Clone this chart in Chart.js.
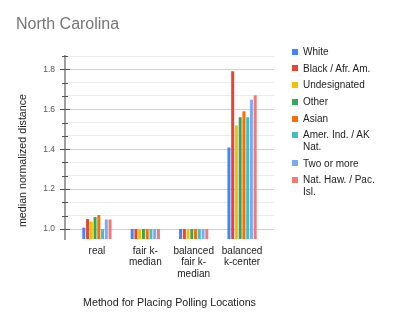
<!DOCTYPE html>
<html>
<head>
<meta charset="utf-8">
<script src="https://cdn.jsdelivr.net/npm/chart.js@4.4.0/dist/chart.umd.min.js"></script>
<style>
  html, body { margin: 0; padding: 0; background: #fff; }
  #wrap { position: relative; width: 402px; height: 325px; }
  #legend { position: absolute; left: 292px; top: 46px; font: 10px "Liberation Sans", Arial, sans-serif; color: #222; }
  .item { display: flex; align-items: flex-start; margin-bottom: 5.2px; line-height: 11.5px; }
  .swatch { width: 6px; height: 6px; margin-top: 2.75px; margin-right: 5px; flex: none; }
  .label { width: 80px; }
</style>
</head>
<body>
<div id="wrap">
  <canvas id="chart" width="402" height="325"></canvas>
  <div id="legend"></div>
</div>
<script>
const chartTitle = 'North Carolina';
const xTitle = 'Method for Placing Polling Locations';
const yTitle = 'median normalized distance';

// categories (multi-line labels as shown)
const categories = [['real'], ['fair k-', 'median'], ['balanced', 'fair k-', 'median'], ['balanced', 'k-center']];

const seriesNames = ['White', 'Black / Afr. Am.', 'Undesignated', 'Other', 'Asian', 'Amer. Ind. / AK Nat.', 'Two or more', 'Nat. Haw. / Pac. Isl.'];
const seriesColors = ['#4285f4', '#ea4335', '#fbbc04', '#34a853', '#ff6d01', '#46bdc6', '#7baaf7', '#f07b72'];

// values per series, one per category
const white = [1.007, 1.0, 1.0, 1.408];
const black = [1.05, 1.0, 1.0, 1.79];
const undesignated = [1.037, 1.0, 1.0, 1.518];
const other = [1.06, 1.0, 1.0, 1.56];
const asian = [1.07, 1.0, 1.0, 1.59];
const amerInd = [1.0, 1.0, 1.0, 1.56];
const twoOrMore = [1.048, 1.0, 1.0, 1.648];
const natHaw = [1.048, 1.0, 1.0, 1.67];
const seriesValues = [white, black, undesignated, other, asian, amerInd, twoOrMore, natHaw];

// y axis
const yMajorTicks = [1.0, 1.2, 1.4, 1.6, 1.8];
const yStep = 0.2;
const yMin = 0.95;
const yMax = yMajorTicks[yMajorTicks.length - 1] + yStep / 3;

const isMajor = (v) => yMajorTicks.some((m) => Math.abs(m - v) < 1e-6);

const FONT = '"Liberation Sans", Arial, sans-serif';

// legend as html so long names can wrap
const legendEl = document.getElementById('legend');
seriesNames.forEach((name, i) => {
  const item = document.createElement('div');
  item.className = 'item';
  item.innerHTML = '<span class="swatch" style="background:' + seriesColors[i] + '"></span><span class="label">' + name + '</span>';
  legendEl.appendChild(item);
});

// tick marks crossing the y axis + offset y title
const axisMarks = {
  id: 'axisMarks',
  afterDraw(chart) {
    const { ctx, chartArea, scales: { y } } = chart;
    ctx.save();
    ctx.strokeStyle = '#555';
    ctx.lineWidth = 1;
    y.ticks.forEach((t) => {
      const py = Math.round(y.getPixelForValue(t.value)) + 0.5;
      const half = isMajor(t.value) ? 5 : 3;
      ctx.beginPath();
      ctx.moveTo(chartArea.left - half, py);
      ctx.lineTo(chartArea.left + half, py);
      ctx.stroke();
    });
    ctx.translate(23, (chartArea.top + chartArea.bottom) / 2 + 13);
    ctx.rotate(-Math.PI / 2);
    ctx.font = '10.7px ' + FONT;
    ctx.fillStyle = '#222';
    ctx.textAlign = 'center';
    ctx.textBaseline = 'middle';
    ctx.fillText(yTitle, 0, 0);
    ctx.restore();
  }
};

new Chart(document.getElementById('chart'), {
  type: 'bar',
  data: {
    datasets: seriesNames.map((name, i) => ({
      label: name,
      data: seriesValues[i].map((v, j) => ({ x: j, y: v })),
      backgroundColor: seriesColors[i],
      categoryPercentage: 0.62,
      barPercentage: 0.8,
    })),
  },
  options: {
    responsive: false,
    animation: false,
    devicePixelRatio: 1,
    layout: { padding: { left: 16, right: 128, top: 0, bottom: 12 } },
    plugins: {
      legend: { display: false },
      tooltip: { enabled: false },
      title: {
        display: true,
        text: chartTitle,
        align: 'start',
        color: '#757575',
        font: { family: FONT, size: 16, weight: 'normal' },
        padding: { top: 15.4, bottom: 21.4 },
      },
    },
    scales: {
      x: {
        type: 'linear',
        offset: false,
        min: -0.66,
        max: 3.66,
        afterBuildTicks: (scale) => { scale.ticks = categories.map((c, i) => ({ value: i })); },
        afterFit: (scale) => { scale.height = 74; },
        grid: { display: false, drawTicks: false, offset: false },
        border: { display: false },
        ticks: {
          autoSkip: false,
          maxRotation: 0,
          padding: 6,
          color: '#222',
          font: { family: FONT, size: 10, lineHeight: 1.17 },
          callback: (v) => categories[v],
        },
        title: {
          display: true,
          text: xTitle,
          color: '#222',
          font: { family: FONT, size: 10.7 },
          padding: { top: 4, bottom: 4 },
        },
      },
      y: {
        min: yMin,
        max: yMax,
        afterBuildTicks: (scale) => {
          const ticks = [];
          yMajorTicks.forEach((m) => {
            for (let k = 0; k < 3; k++) ticks.push({ value: m + k * yStep / 3 });
          });
          scale.ticks = ticks.filter((t) => t.value <= yMax + 1e-9);
        },
        afterFit: (scale) => { scale.width = 49; },
        grid: {
          drawTicks: false,
          color: (ctx) => (ctx.tick && isMajor(ctx.tick.value) ? '#d0d0d0' : '#ebebeb'),
        },
        border: { display: true, color: '#9e9e9e', width: 2 },
        ticks: {
          padding: 10,
          color: '#555',
          font: { family: FONT, size: 8.5 },
          callback: (v) => (isMajor(v) ? v.toFixed(1) : ''),
        },
      },
    },
  },
  plugins: [axisMarks],
});
</script>
</body>
</html>
